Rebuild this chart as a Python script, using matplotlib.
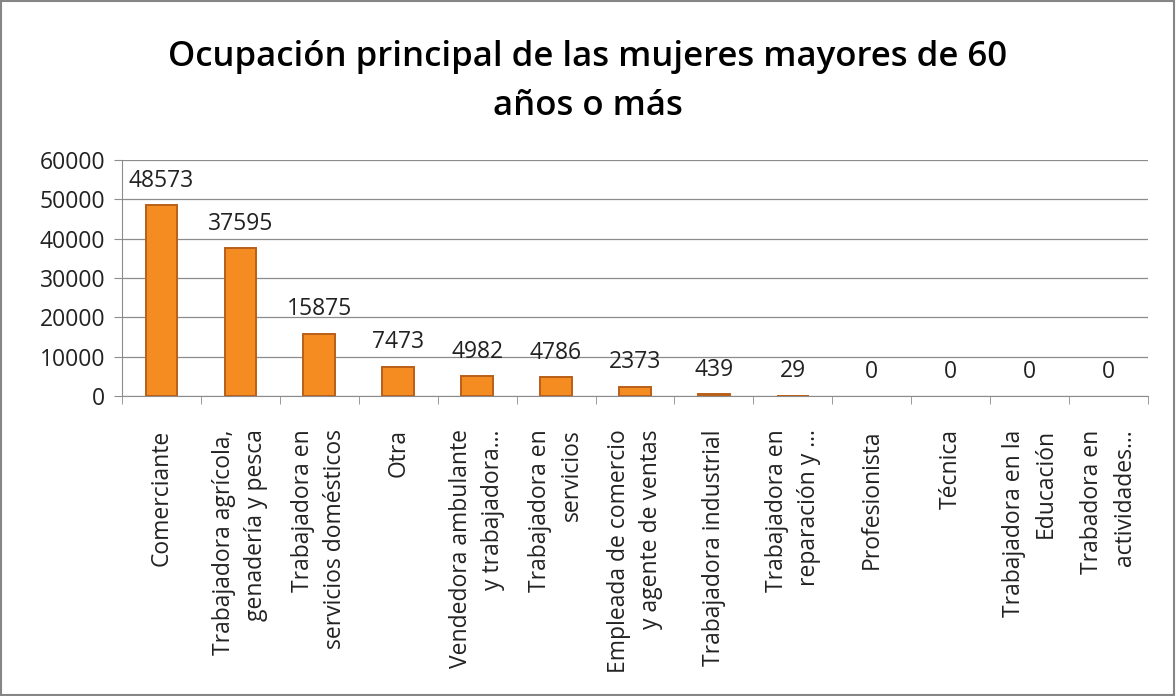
import matplotlib.pyplot as plt
from matplotlib.patches import Rectangle

# Datos
categorias = [
    "Comerciante",
    "Trabajadora agrícola,\ngenadería y pesca",
    "Trabajadora en\nservicios domésticos",
    "Otra",
    "Vendedora ambulante\ny trabajadora...",
    "Trabajadora en\nservicios",
    "Empleada de comercio\ny agente de ventas",
    "Trabajadora industrial",
    "Trabajadora en\nreparación y ...",
    "Profesionista",
    "Técnica",
    "Trabajadora en la\nEducación",
    "Trabadora en\nactividades...",
]
valores = [48573, 37595, 15875, 7473, 4982, 4786, 2373, 439, 29, 0, 0, 0, 0]
ticks_y = [0, 10000, 20000, 30000, 40000, 50000, 60000]

plt.rcParams['font.family'] = ['Open Sans', 'DejaVu Sans']

fig = plt.figure(figsize=(11.76, 6.96), dpi=100)
ax = fig.add_axes([0.1037, 0.431, 0.8725, 0.339])

x = list(range(len(valores)))
# sin borde en las barras de valor cero
bordes = [1.4 if v > 0 else 0 for v in valores]
ax.bar(x, valores, width=0.40, color='#F48C22', edgecolor='#B95F18',
       linewidth=bordes, zorder=3)

for xi, v in zip(x, valores):
    ax.annotate(str(v), (xi, v), xytext=(0, 9), textcoords='offset points',
                ha='center', va='bottom', fontsize=16.5, color='#222222')

ax.set_xlim(-0.5, len(valores) - 0.5)
ax.set_ylim(0, 60000)
ax.set_yticks(ticks_y)
ax.set_yticklabels([str(t) for t in ticks_y], fontsize=16.5, color='#222222')
ax.yaxis.grid(True, color='#8C8C8C', linewidth=0.9, zorder=0)

ax.set_xticks(x)
ax.set_xticklabels(categorias, rotation=90, fontsize=16.5, color='#222222',
                   va='top', ha='center', multialignment='right', linespacing=1.45)
ax.set_xticks([i + 0.5 for i in range(-1, len(valores))], minor=True)
ax.tick_params(axis='x', which='major', length=0, pad=24)
ax.tick_params(axis='x', which='minor', length=6, color='#8C8C8C', direction='out')
ax.tick_params(axis='y', length=6, color='#8C8C8C', direction='out', pad=6)

for s in ['top', 'right']:
    ax.spines[s].set_visible(False)
for s in ['left', 'bottom']:
    ax.spines[s].set_color('#8C8C8C')

fig.text(0.5, 0.883, "Ocupación principal de las mujeres mayores de 60\naños o más",
         ha='center', va='center', fontsize=25, fontweight='semibold', linespacing=1.55)

# Marco exterior
fig.patches.append(Rectangle((0.001, 0.001), 0.997, 0.997, transform=fig.transFigure,
                             fill=False, edgecolor='#868686', linewidth=1.5))

fig.savefig('out.png', dpi=100)
